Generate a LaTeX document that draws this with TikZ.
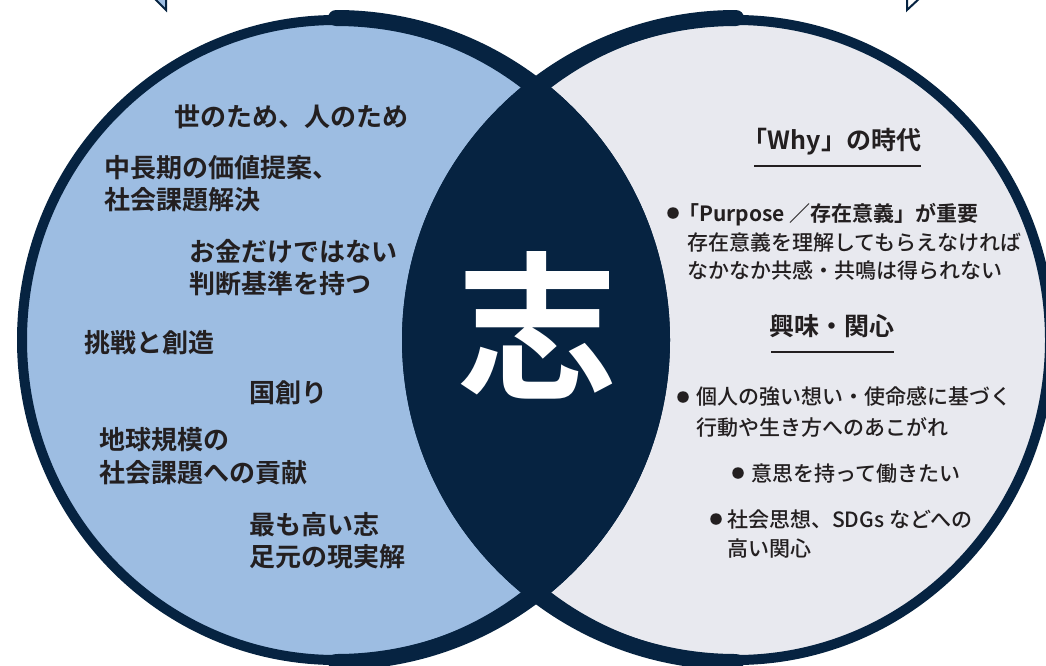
\documentclass[tikz,border=0pt]{standalone}
\usepackage{fontspec}
\newfontfamily\jp{Noto Sans CJK JP}[BoldFont={Noto Sans CJK JP Bold}]
\newfontfamily\jpm{Noto Sans CJK JP Medium}
\definecolor{navy}{HTML}{062341}
\definecolor{lblue}{HTML}{9DBDE2}
\definecolor{lgray}{HTML}{E8E9EF}
\definecolor{ink}{HTML}{231F20}
\begin{document}
\begin{tikzpicture}[x=1pt,y=-1pt,
  lt/.style={font=\jp\bfseries\fontsize{26}{30}\selectfont, text=ink, anchor=west, inner sep=0, text height=22.9pt, text depth=3.1pt},
  rt/.style={font=\jpm\fontsize{21}{25}\selectfont, text=ink, anchor=west, inner sep=0, text height=18.5pt, text depth=2.5pt},
  rb/.style={rt, font=\jp\bfseries\fontsize{21}{25}\selectfont},
  rh/.style={font=\jp\bfseries\fontsize{25}{28}\selectfont, text=ink, inner sep=0, text height=22pt, text depth=3pt},
  bul/.style={circle, fill=ink, minimum size=11.5pt, inner sep=0},
  rule/.style={draw=ink, line width=2pt},
]
\useasboundingbox (0,0) rectangle (1046,665);
% small tips of shapes above the picture
\draw[navy, line width=2pt, fill=lblue] (153,-3) -- (166,10) -- (166,-3);
\draw[navy, line width=2pt, fill=white] (907,-3) -- (907,10) -- (921,-3);
% circle fills
\coordinate (c1) at (336,340);
\coordinate (c2) at (736,340);
\fill[lblue] (c1) ellipse[x radius=318, y radius=324];
\fill[lgray] (c2) ellipse[x radius=318, y radius=324];
\begin{scope}
  \clip (c1) ellipse[x radius=334, y radius=330];
  \fill[navy] (c2) ellipse[x radius=334, y radius=330];
\end{scope}
% thin borders
\draw[navy, line width=10pt] (c1) ellipse[x radius=314, y radius=320];
\draw[navy, line width=10pt] (c2) ellipse[x radius=314, y radius=320];
% thick inner arcs
\draw[navy, line width=16pt, line cap=round] (336,18) arc[start angle=-90, end angle=90, x radius=326, y radius=322];
\draw[navy, line width=16pt, line cap=round] (736,18) arc[start angle=-90, end angle=-270, x radius=326, y radius=322];
% centre character
\node[font=\jp\bfseries\fontsize{160}{170}\selectfont, text=white, inner sep=0, text height=140.8pt, text depth=19.2pt] (kokorozashi) at (537,327) {志};
% left texts
\node[lt] (l1) at (174,117) {世のため、人のため};
\node[lt] (l2) at (104,168) {中長期の価値提案、};
\node[lt] (l3) at (104,200) {社会課題解決};
\node[lt] (l4) at (189,252) {お金だけではない};
\node[lt] (l5) at (189,284) {判断基準を持つ};
\node[lt] (l6) at (84,343) {挑戦と創造};
\node[lt] (l7) at (249,393) {国創り};
\node[lt] (l8) at (99,440) {地球規模の};
\node[lt] (l9) at (99,473) {社会課題への貢献};
\node[lt] (l10) at (249,525) {最も高い志};
\node[lt] (l11) at (249,557) {足元の現実解};
% right texts
\node[rh] (h1) at (832,140) {「Why」の時代};
\draw[rule] (754,166) -- (921,166);
\node[bul] (b1) at (673,213) {};
\node[rb] (r1) at (678,213) {「Purpose ／存在意義」が重要};
\node[rt] (r2) at (687,242) {存在意義を理解してもらえなければ};
\node[rt] (r3) at (687,270) {なかなか共感・共鳴は得られない};
\node[rh] (h2) at (832,326) {興味・関心};
\draw[rule] (771,352) -- (894,352);
\node[bul] (b2) at (683,397) {};
\node[rt] (r4) at (696,396) {個人の強い想い・使命感に基づく};
\node[rt] (r5) at (696,427) {行動や生き方へのあこがれ};
\node[bul] (b3) at (738,473) {};
\node[rt] (r6) at (751,473) {意思を持って働きたい};
\node[bul] (b4) at (716,519) {};
\node[rt] (r7) at (727,519) {社会思想、SDGs などへの};
\node[rt] (r8) at (727,548) {高い関心};
\end{tikzpicture}
\end{document}
